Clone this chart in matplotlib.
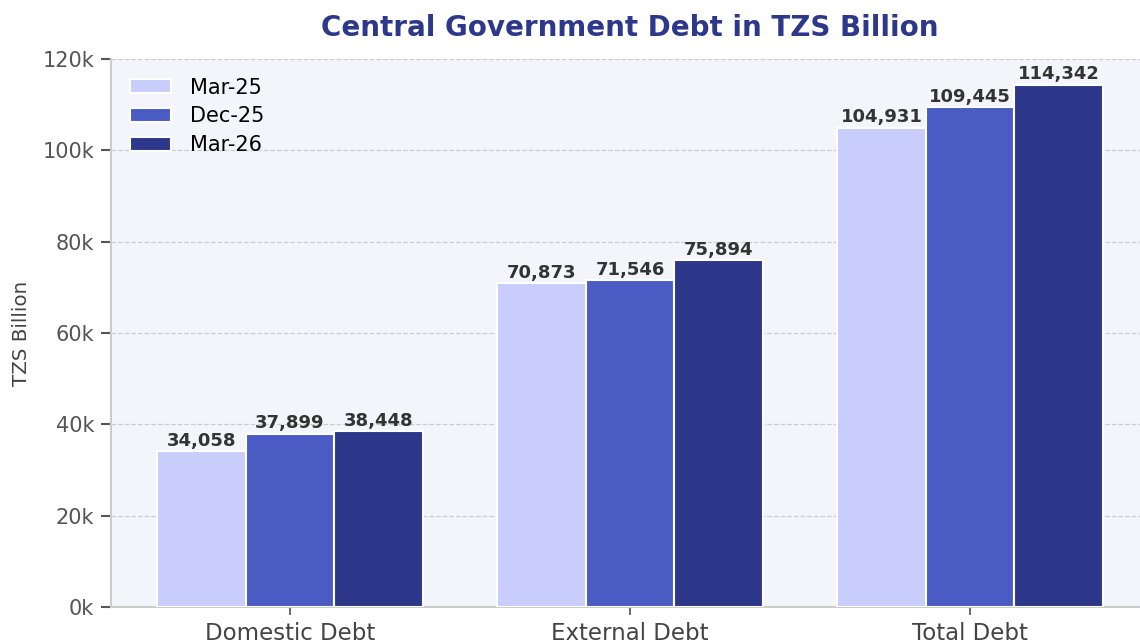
import matplotlib
matplotlib.use("Agg")
import matplotlib.pyplot as plt
import numpy as np
from matplotlib.ticker import FuncFormatter

categories = ["Domestic Debt", "External Debt", "Total Debt"]
series_names = ["Mar-25", "Dec-25", "Mar-26"]
mar25 = [34058, 70873, 104931]
dec25 = [37899, 71546, 109445]
mar26 = [38448, 75894, 114342]
colors = ["#C8CDFC", "#4A5CC4", "#2D388A"]

fig = plt.figure(figsize=(11.4, 6.43), dpi=100)
ax = fig.add_axes([111/1140, 36/643, 1038/1140, 548/643])
ax.set_facecolor("#F4F5FA")

x = np.arange(len(categories))
w = 0.26
for i, (vals, name, c) in enumerate(zip([mar25, dec25, mar26], series_names, colors)):
    pos = x + (i - 1) * w
    bars = ax.bar(pos, vals, w, color=c, edgecolor="white", linewidth=1.5, label=name, zorder=3)
    for b, v in zip(bars, vals):
        ax.text(b.get_x() + b.get_width() / 2, v + 350, f"{v:,}", ha="center", va="bottom",
                fontsize=13, fontweight="bold", color="#333333", zorder=4)

ax.set_xlim(-0.526, 2.526)
ax.set_ylim(0, 120000)
ax.set_yticks(np.arange(0, 120001, 20000))
ax.yaxis.set_major_formatter(FuncFormatter(lambda v, p: f"{int(v/1000)}k"))
ax.set_xticks(x)
ax.set_xticklabels(categories, fontsize=16.5, color="#444444")
ax.tick_params(axis="y", labelsize=15, labelcolor="#555555", color="#555555", length=7, width=1.5, pad=5)
ax.tick_params(axis="x", color="#555555", length=6, width=1.2, pad=5)
ax.grid(axis="y", linestyle="--", color="#cccccc", linewidth=0.9, zorder=0)
for s in ["top", "right"]:
    ax.spines[s].set_visible(False)
for s in ["left", "bottom"]:
    ax.spines[s].set_color("#cccccc")
    ax.spines[s].set_linewidth(1.5)

ax.set_ylabel("TZS Billion", fontsize=14.3, color="#444444", labelpad=8)
fig.text(630/1140, 1 - 28/643, "Central Government Debt in TZS Billion", ha="center", va="center",
         fontsize=20, fontweight="bold", color="#2D388A")

ax.legend(loc="upper left", fontsize=15, frameon=False, handlelength=2.0, handleheight=0.65,
          borderaxespad=0.5, labelspacing=0.42, handletextpad=0.9)

fig.savefig("out.png", dpi=100, facecolor="white")
